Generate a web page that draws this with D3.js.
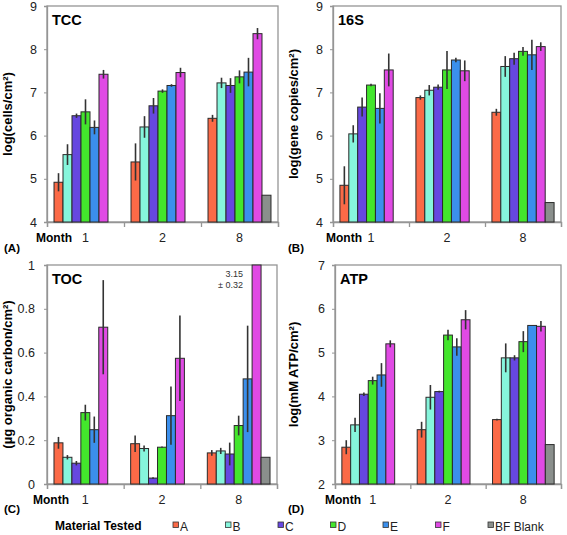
<!DOCTYPE html>
<html><head><meta charset="utf-8">
<script src="https://cdn.jsdelivr.net/npm/d3@7"></script>
<style>body{margin:0;background:#fff}svg{display:block;font-family:"Liberation Sans",Arial,sans-serif}</style>
</head><body><svg id="c" width="567" height="535"></svg>
<script>
const months = ["1", "2", "8"];
const materials = ["A", "B", "C", "D", "E", "F", "BF Blank"];
const colors = ["#fb6a47", "#86f5dc", "#6647e0", "#43e62c", "#3b8fec", "#e04ae4", "#8a8f8c"];

// values per month, in material order (null = not measured)
const tccMean = [[4.92, 5.56, 6.46, 6.55, 6.19, 7.42, null], [5.39, 6.20, 6.69, 7.03, 7.16, 7.46, null], [6.40, 7.22, 7.16, 7.36, 7.47, 8.36, 4.62]];
const tccErr  = [[0.21, 0.24, 0.05, 0.29, 0.16, 0.10, 0], [0.43, 0.25, 0.18, 0.04, 0.03, 0.11, 0], [0.08, 0.12, 0.17, 0.15, 0.33, 0.13, 0]];
const s16Mean = [[4.85, 6.04, 6.66, 7.17, 6.63, 7.52, null], [6.88, 7.05, 7.12, 7.52, 7.75, 7.50, null], [6.54, 7.60, 7.78, 7.95, 7.87, 8.06, 4.45]];
const s16Err  = [[0.44, 0.20, 0.22, 0.03, 0.35, 0.38, 0], [0.05, 0.12, 0.06, 0.44, 0.05, 0.24, 0], [0.08, 0.24, 0.14, 0.10, 0.35, 0.10, 0]];
const tocMean = [[0.188, 0.122, 0.095, 0.326, 0.248, 0.716, null], [0.184, 0.162, 0.027, 0.168, 0.312, 0.574, null], [0.142, 0.151, 0.137, 0.267, 0.480, 3.15, 0.122]];
const tocErr  = [[0.027, 0.010, 0.010, 0.036, 0.060, 0.215, 0], [0.038, 0.014, 0.004, 0.003, 0.133, 0.195, 0], [0.013, 0.014, 0.052, 0.045, 0.243, 0, 0]];
const atpMean = [[2.84, 3.35, 4.05, 4.36, 4.49, 5.20, null], [3.24, 3.98, 4.11, 5.40, 5.13, 5.75, null], [3.47, 4.88, 4.88, 5.25, 5.62, 5.60, 2.90]];
const atpErr  = [[0.16, 0.16, 0.04, 0.09, 0.27, 0.08, 0], [0.18, 0.28, 0.02, 0.12, 0.20, 0.22, 0], [0.02, 0.33, 0.06, 0.24, 0.01, 0.12, 0]];

const tccTicks = [4, 5, 6, 7, 8, 9];
const s16Ticks = [4, 5, 6, 7, 8, 9];
const tocTicks = [0, 0.2, 0.4, 0.6, 0.8, 1];
const atpTicks = [2, 3, 4, 5, 6, 7];

const svg = d3.select("#c");
svg.append("rect").attr("width", 567).attr("height", 535).attr("fill", "#fff");

function panel(o) {
  const g = svg.append("g");
  const x0 = d3.scaleBand().domain(months).range([o.left, o.right]).paddingInner(0).paddingOuter(0);
  const x1 = d3.scaleBand().domain(materials).range([0, x0.bandwidth()]).paddingInner(0).paddingOuter(0.78);
  const y = d3.scaleLinear().domain([o.ticks[0], o.ticks[o.ticks.length - 1]]).range([o.bottom, o.top]).clamp(true);

  // frame
  g.append("rect").attr("x", o.left).attr("y", o.top).attr("width", o.right - o.left).attr("height", o.bottom - o.top)
    .attr("fill", "none").attr("stroke", "#959595").attr("stroke-width", 1.3);

  // y axis
  const ya = g.append("g").attr("transform", `translate(${o.left},0)`)
    .call(d3.axisLeft(y).tickValues(o.ticks).tickSize(3).tickPadding(o.tpad).tickFormat(d => String(d)));
  ya.select(".domain").attr("stroke", "#959595").attr("stroke-width", 1.3);
  ya.selectAll(".tick line").attr("stroke", "#959595");
  ya.selectAll("text").attr("font-size", 12.5).attr("fill", "#222").attr("font-family", "Liberation Sans, Arial, sans-serif");

  // x axis boundary ticks
  const xb = d3.scaleLinear().domain([0, months.length]).range([o.left, o.right]);
  const xa = g.append("g").attr("transform", `translate(0,${o.bottom})`)
    .call(d3.axisBottom(xb).tickValues([0, 1, 2, 3]).tickSize(5).tickFormat(""));
  xa.select(".domain").attr("stroke", "#959595").attr("stroke-width", 1.3);
  xa.selectAll(".tick line").attr("stroke", "#959595").attr("stroke-width", 1.3);

  // month labels
  const xl = g.append("g").attr("transform", `translate(0,${o.bottom + 11})`)
    .call(d3.axisBottom(x0).tickSize(0).tickPadding(0));
  xl.select(".domain").remove();
  xl.selectAll("text").attr("font-size", 12.5).attr("fill", "#222").attr("dy", "0.71em").attr("font-family", "Liberation Sans, Arial, sans-serif");

  g.append("text").attr("x", o.monthX).attr("y", o.bottom + 20).attr("font-size", 12).attr("font-weight", "bold").text("Month");
  g.append("text").attr("x", o.tagX).attr("y", o.tagY).attr("font-size", 11.5).attr("font-weight", "bold").text(o.tag);

  // title
  g.append("text").attr("x", o.left + 5).attr("y", o.top + 19).attr("font-size", 14.5).attr("font-weight", "bold").text(o.title);

  // y label
  g.append("text").attr("transform", `translate(${o.ylx},${(o.top + o.bottom) / 2}) rotate(-90)`)
    .attr("text-anchor", "middle").attr("font-size", 13).attr("font-weight", "bold").text(o.ylabel);

  // bars
  const rows = [];
  months.forEach((m, i) => materials.forEach((k, j) => {
    if (o.mean[i][j] != null) rows.push({ m, k, j, v: o.mean[i][j], e: o.err[i][j] });
  }));
  const bg = g.selectAll("g.grp").data(rows).enter().append("g")
    .attr("transform", d => `translate(${x0(d.m)},0)`);
  bg.append("rect")
    .attr("x", d => x1(d.k)).attr("width", x1.bandwidth())
    .attr("y", d => y(d.v)).attr("height", d => o.bottom - y(d.v))
    .attr("fill", d => colors[d.j]).attr("stroke", "#2a2a2a").attr("stroke-width", 1);
  bg.filter(d => d.e > 0).append("line")
    .attr("x1", d => x1(d.k) + x1.bandwidth() / 2).attr("x2", d => x1(d.k) + x1.bandwidth() / 2)
    .attr("y1", d => y(d.v - d.e)).attr("y2", d => y(d.v + d.e))
    .attr("stroke", "#333").attr("stroke-width", 1.6);
  return { g, x0, x1, y };
}

panel({ left: 47, right: 278, top: 6, bottom: 222, ticks: tccTicks, mean: tccMean, err: tccErr, tpad: 7,
  title: "TCC", ylabel: "log(cells/cm²)", ylx: 12, monthX: 36, tag: "(A)", tagX: 4, tagY: 252 });
panel({ left: 333, right: 561, top: 6, bottom: 222, ticks: s16Ticks, mean: s16Mean, err: s16Err, tpad: 7,
  title: "16S", ylabel: "log(gene copies/cm²)", ylx: 298, monthX: 326, tag: "(B)", tagX: 288, tagY: 252 });
const pc = panel({ left: 47, right: 277, top: 265, bottom: 484, ticks: tocTicks, mean: tocMean, err: tocErr, tpad: 9,
  title: "TOC", ylabel: "(µg organic carbon/cm²)", ylx: 12, monthX: 33, tag: "(C)", tagX: 4, tagY: 513 });
panel({ left: 335, right: 561, top: 265, bottom: 484, ticks: atpTicks, mean: atpMean, err: atpErr, tpad: 7,
  title: "ATP", ylabel: "log(mM ATP/cm²)", ylx: 298, monthX: 325, tag: "(D)", tagX: 288, tagY: 513 });

// off-scale annotation for TOC, material F, month 8
pc.g.append("text").attr("x", 243).attr("y", 277).attr("text-anchor", "end").attr("font-size", 9).attr("fill", "#333")
  .text(tocMean[2][5].toFixed(2));
pc.g.append("text").attr("x", 243).attr("y", 288).attr("text-anchor", "end").attr("font-size", 9).attr("fill", "#333")
  .text("± " + "0.32");

// legend
const lg = svg.append("g");
lg.append("text").attr("x", 55).attr("y", 530).attr("font-size", 12).attr("font-weight", "bold").text("Material Tested");
const lx = d3.scaleLinear().domain([0, 1]).range([173, 225.5]);
const li = lg.selectAll("g.li").data(materials).enter().append("g").attr("transform", (d, i) => `translate(${lx(i)},0)`);
li.append("rect").attr("x", 0).attr("y", 522).attr("width", 5.5).attr("height", 5.5)
  .attr("fill", (d, i) => colors[i]).attr("stroke", "#333").attr("stroke-width", 0.8);
li.append("text").attr("x", 7).attr("y", 531).attr("font-size", 12).attr("fill", "#222").text(d => d);
</script></body></html>
